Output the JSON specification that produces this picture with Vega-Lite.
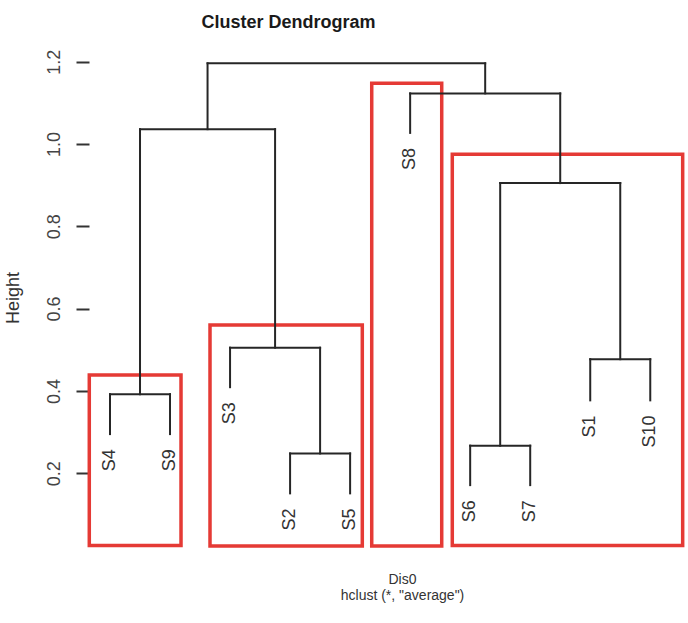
{
  "$schema": "https://vega.github.io/schema/vega-lite/v6.json",
  "autosize": "none",
  "width": 599,
  "height": 510,
  "padding": {"left": 89, "top": 50, "right": 0, "bottom": 63},
  "background": "white",
  "config": {
    "view": {"stroke": null},
    "font": "Liberation Sans"
  },
  "title": {
    "text": "Cluster Dendrogram",
    "anchor": "middle",
    "frame": "group",
    "dx": -100,
    "offset": 3,
    "baseline": "alphabetic",
    "font": "Liberation Sans",
    "fontSize": 18,
    "fontWeight": "bold",
    "color": "#1a1a1a"
  },
  "datasets": {
    "segments": [
      {"x": 1, "y": 0.295, "x2": 1, "y2": 0.392},
      {"x": 1, "y": 0.392, "x2": 2, "y2": 0.392},
      {"x": 2, "y": 0.295, "x2": 2, "y2": 0.392},
      {"x": 4, "y": 0.151, "x2": 4, "y2": 0.248},
      {"x": 4, "y": 0.248, "x2": 5, "y2": 0.248},
      {"x": 5, "y": 0.151, "x2": 5, "y2": 0.248},
      {"x": 3, "y": 0.409, "x2": 3, "y2": 0.505},
      {"x": 3, "y": 0.505, "x2": 4.5, "y2": 0.505},
      {"x": 4.5, "y": 0.248, "x2": 4.5, "y2": 0.505},
      {"x": 1.5, "y": 0.392, "x2": 1.5, "y2": 1.036},
      {"x": 1.5, "y": 1.036, "x2": 3.75, "y2": 1.036},
      {"x": 3.75, "y": 0.505, "x2": 3.75, "y2": 1.036},
      {"x": 7, "y": 0.171, "x2": 7, "y2": 0.267},
      {"x": 7, "y": 0.267, "x2": 8, "y2": 0.267},
      {"x": 8, "y": 0.171, "x2": 8, "y2": 0.267},
      {"x": 9, "y": 0.377, "x2": 9, "y2": 0.477},
      {"x": 9, "y": 0.477, "x2": 10, "y2": 0.477},
      {"x": 10, "y": 0.377, "x2": 10, "y2": 0.477},
      {"x": 7.5, "y": 0.267, "x2": 7.5, "y2": 0.905},
      {"x": 7.5, "y": 0.905, "x2": 9.5, "y2": 0.905},
      {"x": 9.5, "y": 0.477, "x2": 9.5, "y2": 0.905},
      {"x": 6, "y": 1.027, "x2": 6, "y2": 1.123},
      {"x": 6, "y": 1.123, "x2": 8.5, "y2": 1.123},
      {"x": 8.5, "y": 0.905, "x2": 8.5, "y2": 1.123},
      {"x": 2.625, "y": 1.036, "x2": 2.625, "y2": 1.196},
      {"x": 2.625, "y": 1.196, "x2": 7.25, "y2": 1.196},
      {"x": 7.25, "y": 1.123, "x2": 7.25, "y2": 1.196}
    ],
    "leaves": [
      {"label": "S4", "x": 1, "y": 0.295},
      {"label": "S9", "x": 2, "y": 0.295},
      {"label": "S3", "x": 3, "y": 0.409},
      {"label": "S2", "x": 4, "y": 0.151},
      {"label": "S5", "x": 5, "y": 0.151},
      {"label": "S8", "x": 6, "y": 1.027},
      {"label": "S6", "x": 7, "y": 0.171},
      {"label": "S7", "x": 8, "y": 0.171},
      {"label": "S1", "x": 9, "y": 0.377},
      {"label": "S10", "x": 10, "y": 0.377}
    ],
    "boxes": [
      {"x": 0.655, "x2": 2.183, "y": 0.024, "y2": 0.4386},
      {"x": 2.666, "x2": 5.203, "y": 0.023, "y2": 0.56},
      {"x": 5.36, "x2": 6.526, "y": 0.023, "y2": 1.1475},
      {"x": 6.702, "x2": 10.54, "y": 0.024, "y2": 0.975}
    ]
  },
  "encoding": {
    "x": {
      "field": "x",
      "type": "quantitative",
      "scale": {"domain": [0.6502, 10.6286], "nice": false, "zero": false},
      "axis": {
        "domain": false,
        "ticks": false,
        "labels": false,
        "grid": false,
        "title": ["Dis0", "hclust (*, \"average\")"],
        "titleX": 313,
        "titleY": 23,
        "titleAlign": "center",
        "titleBaseline": "alphabetic",
        "titleLineHeight": 16,
        "titleFont": "Liberation Sans",
        "titleFontSize": 14,
        "titleFontWeight": "normal",
        "titleColor": "#333333"
      }
    },
    "y": {
      "field": "y",
      "type": "quantitative",
      "scale": {"domain": [-0.01094, 1.22843], "nice": false, "zero": false},
      "axis": {
        "values": [0.2, 0.4, 0.6, 0.8, 1.0, 1.2],
        "format": ".1f",
        "domain": false,
        "grid": false,
        "ticks": true,
        "tickSize": 13,
        "tickWidth": 2,
        "tickColor": "#333333",
        "labelAngle": -90,
        "labelAlign": "center",
        "labelBaseline": "alphabetic",
        "labelPadding": 17,
        "labelFont": "Liberation Sans",
        "labelFontSize": 18,
        "labelColor": "#444444",
        "title": "Height",
        "titleAngle": -90,
        "titleX": -71,
        "titleY": 247.5,
        "titleAlign": "center",
        "titleBaseline": "alphabetic",
        "titleFont": "Liberation Sans",
        "titleFontSize": 18,
        "titleFontWeight": "normal",
        "titleColor": "#333333"
      }
    }
  },
  "layer": [
    {
      "data": {"name": "boxes"},
      "mark": {"type": "rect", "filled": false, "stroke": "#e53a35", "strokeWidth": 3.5},
      "encoding": {
        "x2": {"field": "x2"},
        "y2": {"field": "y2"}
      }
    },
    {
      "data": {"name": "segments"},
      "mark": {"type": "rule", "color": "#262626", "strokeWidth": 2, "strokeCap": "square"},
      "encoding": {
        "x2": {"field": "x2"},
        "y2": {"field": "y2"}
      }
    },
    {
      "data": {"name": "leaves"},
      "mark": {
        "type": "text",
        "angle": 270,
        "align": "right",
        "baseline": "middle",
        "dx": -15,
        "font": "Liberation Sans",
        "fontSize": 18,
        "color": "#333333"
      },
      "encoding": {
        "text": {"field": "label"}
      }
    },
    {
      "data": {"values": [{}]},
      "mark": {"type": "rule", "color": "#333333", "strokeWidth": 2},
      "encoding": {
        "x": {"datum": 0.6502, "type": "quantitative"},
        "y": {"datum": 0.2, "type": "quantitative"},
        "y2": {"datum": 1.2}
      }
    }
  ]
}
